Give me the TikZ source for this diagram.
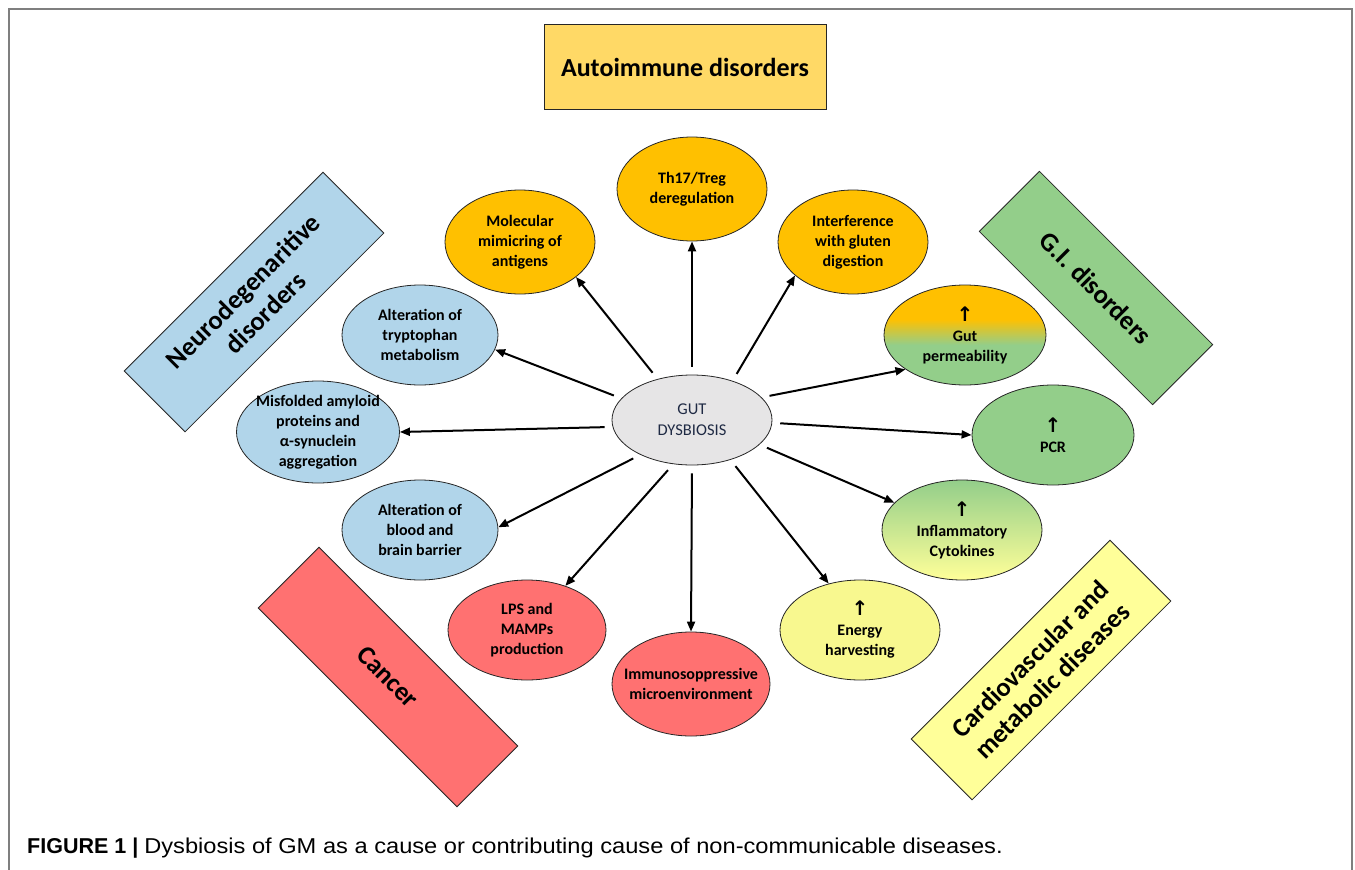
\documentclass[tikz,border=0pt]{standalone}
\usepackage{fontspec}
\setmainfont{Carlito}
\newfontfamily\capfont{Liberation Sans}
\newfontfamily\symfont{DejaVu Sans}
\usetikzlibrary{shapes.geometric,arrows.meta}
\definecolor{orangeE}{HTML}{FFC000}
\definecolor{goldBox}{HTML}{FFD966}
\definecolor{blueE}{HTML}{B1D5EA}
\definecolor{greenE}{HTML}{93CE8A}
\definecolor{redE}{HTML}{FF7171}
\definecolor{yellowE}{HTML}{F8F88F}
\definecolor{yellowBox}{HTML}{FFFF99}
\definecolor{grayE}{HTML}{E6E5E6}
\definecolor{navyT}{HTML}{1F2A44}
\definecolor{frameG}{HTML}{7F7F7F}
\pgfdeclareverticalshading{gutperm}{100bp}{color(0bp)=(greenE); color(45bp)=(greenE); color(58bp)=(orangeE); color(100bp)=(orangeE)}
\newcommand{\upar}{{\symfont\fontsize{20}{18}\selectfont ↑}}
\tikzset{
  ell/.style={ellipse, draw=black!85, line width=0.8pt, inner sep=-18pt, align=center,
    font=\bfseries\fontsize{16}{20}\selectfont},
  disbox/.style={rectangle, draw=black!85, line width=0.8pt, inner sep=0pt, align=center,
    minimum width=281pt, minimum height=86pt, font=\bfseries\fontsize{26.5}{31}\selectfont},
  arr/.style={line width=2pt, -{Triangle[length=10pt,width=8pt]}, shorten <=8pt},
  frameline/.style={draw=frameG, line width=2.2pt}
}
\begin{document}
\begin{tikzpicture}[x=1pt,y=-1pt]
\useasboundingbox (0,0) rectangle (1355,870);
% frame
\draw[frameline] (9,870) -- (9,9) coordinate (ftl) -- (1352,9) coordinate (ftr) -- (1352,870);

% category boxes
\node[disbox, fill=goldBox, minimum width=282pt, minimum height=85pt, font=\bfseries\fontsize{26}{30}\selectfont] (auto) at (685,67) {Autoimmune disorders};
\node[disbox, fill=blueE, rotate=45] (neuro) at (254,302) {Neurodegenaritive\\disorders};
\node[disbox, fill=greenE, rotate=-45, minimum width=245pt, minimum height=85pt] (gi) at (1096,288) {G.I. disorders};
\node[disbox, fill=redE, rotate=-45] (cancer) at (388,677) {Cancer};
\node[disbox, fill=yellowBox, rotate=45] (cardio) at (1041,670) {Cardiovascular and\\metabolic diseases};

% centre
\node[ell, fill=grayE, minimum width=160pt, minimum height=90pt, text=navyT, font=\fontsize{16.5}{21}\selectfont] (gut) at (692,420) {GUT\\DYSBIOSIS};

% effect ellipses
\node[ell, fill=orangeE, minimum width=150pt, minimum height=104pt] (th) at (692,189) {Th17/Treg\\deregulation};
\node[ell, fill=orangeE, minimum width=150pt, minimum height=104pt] (mol) at (520,242) {Molecular\\mimicring of\\antigens};
\node[ell, fill=orangeE, minimum width=150pt, minimum height=104pt] (glu) at (853,242) {Interference\\with gluten\\digestion};
\node[ell, shade, shading=gutperm, minimum width=162pt, minimum height=100pt] (perm) at (965,335) {\upar\\Gut\\permeability};
\node[ell, fill=greenE, minimum width=162pt, minimum height=100pt] (pcr) at (1053,435) {\upar\\PCR};
\node[ell, top color=greenE, bottom color=yellowBox, minimum width=160pt, minimum height=100pt] (infl) at (962,530) {\upar\\Inflammatory\\Cytokines};
\node[ell, fill=yellowE, minimum width=160pt, minimum height=100pt] (ener) at (860,630) {\upar\\Energy\\harvesting};
\node[ell, fill=redE, minimum width=158pt, minimum height=104pt] (immu) at (691,684) {Immunosoppressive\\microenvironment};
\node[ell, fill=redE, minimum width=158pt, minimum height=100pt] (lps) at (527,630) {LPS and\\MAMPs\\production};
\node[ell, fill=blueE, minimum width=156pt, minimum height=100pt] (bbb) at (420,530) {Alteration of\\blood and\\brain barrier};
\node[ell, fill=blueE, minimum width=163pt, minimum height=102pt] (mis) at (318,432) {Misfolded amyloid\\proteins and\\α-synuclein\\aggregation};
\node[ell, fill=blueE, minimum width=156pt, minimum height=100pt] (try) at (420,335) {Alteration of\\tryptophan\\metabolism};

% arrows
\draw[arr] (gut.90) -- (th.-90);
\draw[arr] (gut.130) -- (mol.-32);
\draw[arr] (gut.44) -- (glu.210);
\draw[arr] (gut.18) -- (perm.210);
\draw[arr] (gut.-2) -- (pcr.180);
\draw[arr] (gut.-20) -- (infl.158);
\draw[arr] (gut.-46) -- (ener.124);
\draw[arr] (gut.-90) -- (immu.90);
\draw[arr] (gut.-113) -- (lps.49);
\draw[arr] (gut.214) -- (bbb.2);
\draw[arr] (gut.185) -- (mis.0);
\draw[arr] (gut.163) -- (try.-11);

% caption
\node[anchor=base west, inner sep=0pt, font=\capfont\fontsize{21.5}{24}\selectfont] (cap) at (27,853) {\textbf{FIGURE 1 |} \scalebox{1.1}[1]{Dysbiosis of GM as a cause or contributing cause of non-communicable diseases.}};
\end{tikzpicture}
\end{document}
